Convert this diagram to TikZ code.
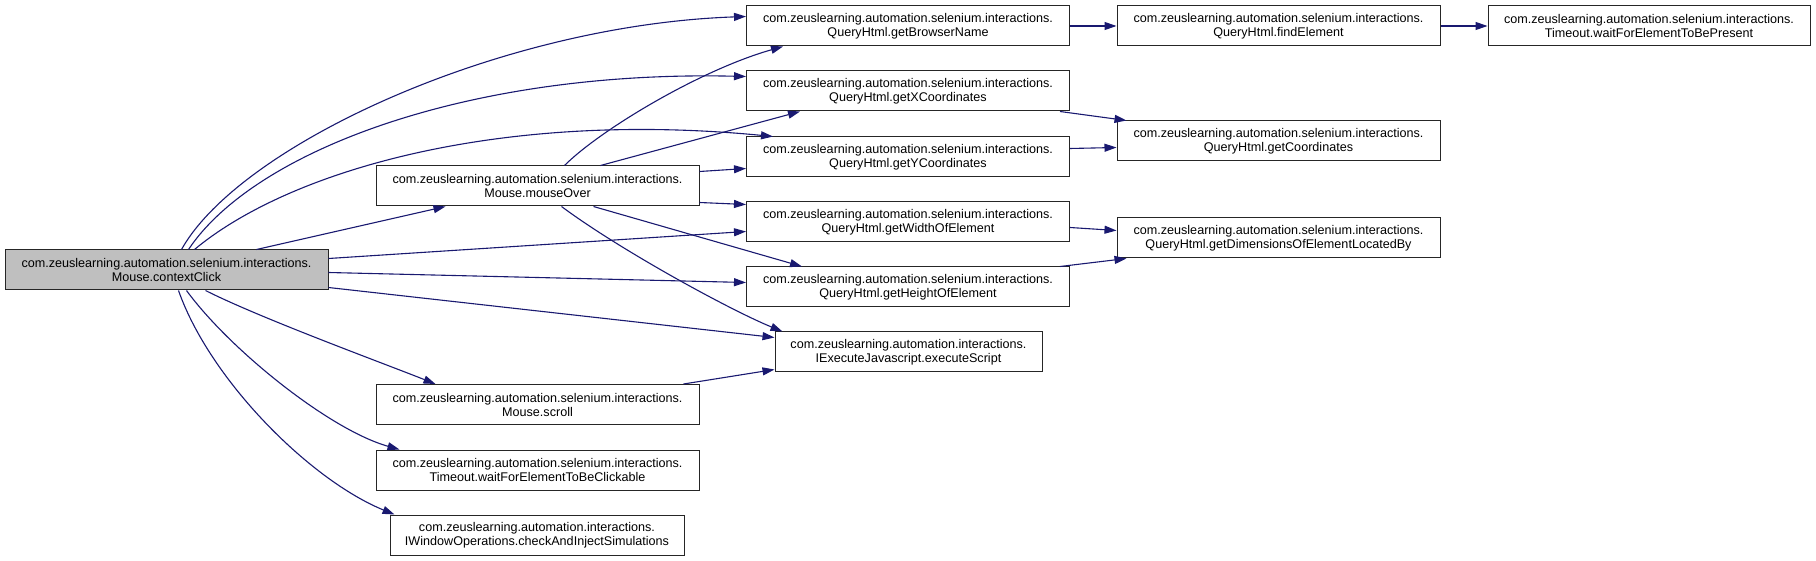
\documentclass[tikz,border=0pt]{standalone}
\usepackage{fontspec}
\setmainfont{Liberation Sans}
\usetikzlibrary{arrows.meta}
\definecolor{edgec}{HTML}{191970}
\definecolor{nodegray}{HTML}{BFBFBF}
\begin{document}
\begin{tikzpicture}[x=1pt,y=-1pt,
  box/.style={draw=black!85, line width=1pt, fill=white, minimum height=40pt,
    inner sep=0pt, align=center, font=\fontsize{12.6}{14}\selectfont, minimum width=323pt},
  edge/.style={draw=edgec, line width=1.1pt, -{Triangle[length=12pt,width=8pt]}}]
\useasboundingbox (0,0) rectangle (1816,561);
% nodes
\node[box, fill=nodegray] (cc) at (166.5,270) {com.zeuslearning.automation.selenium.interactions.\\Mouse.contextClick};
\node[box] (mo) at (537.5,186) {com.zeuslearning.automation.selenium.interactions.\\Mouse.mouseOver};
\node[box] (sc) at (537.5,404.5) {com.zeuslearning.automation.selenium.interactions.\\Mouse.scroll};
\node[box] (wfc) at (537.5,470) {com.zeuslearning.automation.selenium.interactions.\\Timeout.waitForElementToBeClickable};
\node[box, minimum width=294pt] (cai) at (537,535) {com.zeuslearning.automation.interactions.\\IWindowOperations.checkAndInjectSimulations};
\node[box] (gbn) at (908,26) {com.zeuslearning.automation.selenium.interactions.\\QueryHtml.getBrowserName};
\node[box] (gxc) at (908,91) {com.zeuslearning.automation.selenium.interactions.\\QueryHtml.getXCoordinates};
\node[box] (gyc) at (908,157) {com.zeuslearning.automation.selenium.interactions.\\QueryHtml.getYCoordinates};
\node[box] (gwe) at (908,222) {com.zeuslearning.automation.selenium.interactions.\\QueryHtml.getWidthOfElement};
\node[box] (ghe) at (908,287) {com.zeuslearning.automation.selenium.interactions.\\QueryHtml.getHeightOfElement};
\node[box, minimum width=267pt] (es) at (908.5,352) {com.zeuslearning.automation.interactions.\\IExecuteJavascript.executeScript};
\node[box] (fe) at (1278.5,26) {com.zeuslearning.automation.selenium.interactions.\\QueryHtml.findElement};
\node[box, minimum width=322pt] (wfp) at (1649,26) {com.zeuslearning.automation.selenium.interactions.\\Timeout.waitForElementToBePresent};
\node[box] (gc) at (1278.5,141) {com.zeuslearning.automation.selenium.interactions.\\QueryHtml.getCoordinates};
\node[box] (gd) at (1278.5,238) {com.zeuslearning.automation.selenium.interactions.\\QueryHtml.getDimensionsOfElementLocatedBy};
% edges from contextClick
\draw[edge] ([xshift=177pt]cc.north west) .. controls (240,145) and (500,25) .. ([yshift=-11pt]gbn.north west);
\draw[edge] ([xshift=184pt]cc.north west) .. controls (255,150) and (470,70) .. ([yshift=-6pt]gxc.north west);
\draw[edge] ([xshift=190pt]cc.north west) .. controls (290,170) and (500,110) .. ([xshift=27pt]gyc.north west);
\draw[edge] ([xshift=252pt]cc.north west) -- ([xshift=70pt]mo.south west);
\draw[edge] ([yshift=-9pt]cc.north east) -- ([yshift=-30pt]gwe.north west);
\draw[edge] ([yshift=-23pt]cc.north east) -- ([yshift=-16pt]ghe.north west);
\draw[edge] ([yshift=-38pt]cc.north east) -- ([yshift=-6pt]es.north west);
\draw[edge] ([xshift=201pt]cc.south west) .. controls (260,318) and (380,362) .. ([xshift=60pt]sc.north west);
\draw[edge] ([xshift=182pt]cc.south west) .. controls (230,350) and (330,430) .. ([xshift=24pt]wfc.north west);
\draw[edge] ([xshift=174pt]cc.south west) .. controls (210,380) and (310,480) .. ([xshift=5pt]cai.north west);
% edges from mouseOver
\draw[edge] ([xshift=189pt]mo.north west) .. controls (600,130) and (700,70) .. ([xshift=37pt]gbn.south west);
\draw[edge] ([xshift=225pt]mo.north west) -- ([xshift=54pt]gxc.south west);
\draw[edge] ([yshift=-6pt]mo.north east) -- ([yshift=-32pt]gyc.north west);
\draw[edge] ([yshift=4pt]mo.south east) -- ([yshift=-3pt]gwe.north west);
\draw[edge] ([xshift=218pt]mo.south west) -- ([xshift=56pt]ghe.north west);
\draw[edge] ([xshift=186pt]mo.south west) .. controls (620,250) and (730,310) .. ([xshift=8pt]es.north west);
% scroll
\draw[edge] ([xshift=-16pt]sc.north east) -- ([yshift=3pt]es.south west);
% column 2 -> 3
\draw[edge] (gbn.east) -- (fe.west);
\draw[edge] (fe.east) -- (wfp.west);
\draw[edge] ([xshift=-10pt]gxc.south east) -- ([xshift=10pt]gc.north west);
\draw[edge] ([yshift=-12pt]gyc.north east) -- ([yshift=-27pt]gc.north west);
\draw[edge] ([yshift=-26pt]gwe.north east) -- ([yshift=-13pt]gd.north west);
\draw[edge] ([xshift=-10pt]ghe.north east) -- ([xshift=10pt]gd.south west);
\end{tikzpicture}
\end{document}
